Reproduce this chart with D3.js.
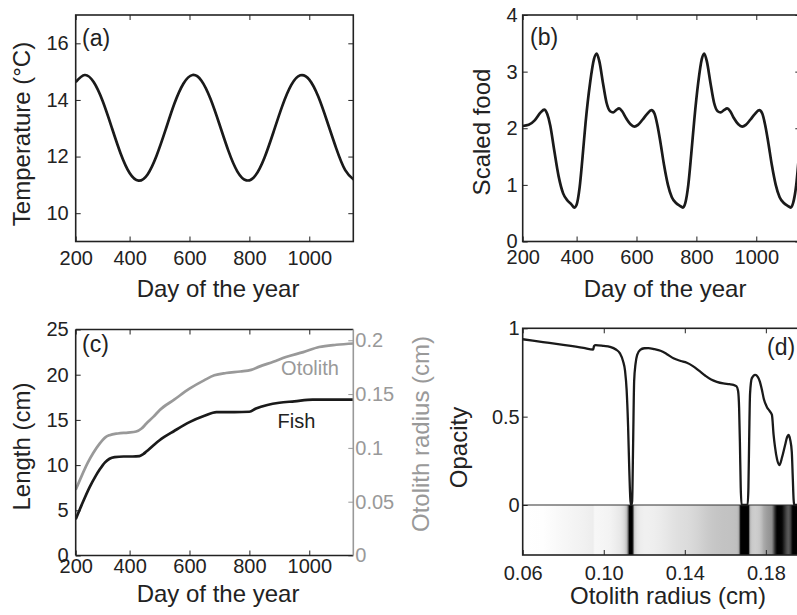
<!DOCTYPE html>
<html>
<head>
<meta charset="utf-8">
<script src="https://cdn.jsdelivr.net/npm/d3@7"></script>
<style>
  body { margin: 0; background: #fff; }
  svg { display: block; font-family: 'Liberation Sans', Arial, Helvetica, sans-serif; }
</style>
</head>
<body>
<div id="chart"></div>
<script>
// (a) temperature over the run
var tempDays   = [220, 250, 280, 310, 340, 370, 400, 430, 460, 490, 520, 550, 580, 610, 640, 670,
                  700, 730, 760, 790, 820, 850, 880, 910, 940, 970, 1000, 1030, 1060, 1090, 1120, 1150];
var tempValues = [14.63, 14.88, 14.63, 13.96, 13.04, 12.11, 11.42, 11.15, 11.37, 12.03, 12.94, 13.88,
                  14.58, 14.88, 14.68, 14.04, 13.14, 12.20, 11.47, 11.16, 11.33, 11.95, 12.85, 13.79,
                  14.53, 14.87, 14.72, 14.12, 13.23, 12.29, 11.52, 11.17];

// (b) scaled food
var foodDays   = [220, 240, 260, 280, 292, 302, 312, 325, 340, 355, 370, 382, 392, 400, 410, 420, 430,
                  445, 458, 467, 476, 488, 500, 512, 522, 532, 542, 552, 565, 580, 593, 605, 620, 635,
                  650, 660, 670, 680, 692, 705, 718, 732, 745, 755, 763, 773, 783, 793, 806, 818, 826,
                  835, 847, 859, 871, 881, 892, 903, 913, 925, 940, 953, 965, 980, 995, 1010, 1020,
                  1030, 1040, 1052, 1065, 1078, 1092, 1105, 1115, 1123, 1133, 1143, 1150];
var foodValues = [2.04, 2.06, 2.14, 2.28, 2.33, 2.25, 2.05, 1.62, 1.15, 0.85, 0.72, 0.66, 0.60, 0.65,
                  0.95, 1.50, 2.10, 2.80, 3.22, 3.32, 3.18, 2.80, 2.45, 2.30, 2.28, 2.32, 2.35, 2.30,
                  2.18, 2.07, 2.03, 2.06, 2.15, 2.25, 2.32, 2.26, 2.05, 1.75, 1.35, 1.00, 0.78, 0.68,
                  0.63, 0.60, 0.68, 1.00, 1.55, 2.15, 2.80, 3.22, 3.32, 3.18, 2.80, 2.45, 2.30, 2.28,
                  2.32, 2.35, 2.30, 2.18, 2.07, 2.03, 2.06, 2.15, 2.25, 2.32, 2.26, 2.05, 1.75, 1.35,
                  1.00, 0.78, 0.68, 0.63, 0.60, 0.68, 0.98, 1.55, 2.00];

// (c) fish length (left axis) and otolith radius (right axis)
var fishDays    = [220, 240, 267, 285, 300, 318, 333, 350, 380, 410, 433, 445, 456, 480, 500, 550, 600,
                   650, 690, 750, 800, 822, 860, 900, 950, 1011, 1150];
var fishLength  = [4.0, 5.6, 7.6, 8.7, 9.5, 10.3, 10.7, 10.88, 10.95, 10.95, 11.0, 11.2, 11.5, 12.2,
                   12.75, 13.8, 14.75, 15.45, 15.87, 15.87, 15.9, 16.25, 16.65, 16.9, 17.05, 17.24, 17.24];
var otoDays     = [220, 240, 260, 278, 300, 320, 333, 361, 395, 422, 440, 456, 480, 500, 550, 600, 650,
                   683, 722, 770, 806, 833, 880, 922, 980, 1033, 1090, 1150];
var otoRadius   = [0.061, 0.074, 0.086, 0.095, 0.104, 0.110, 0.1118, 0.1134, 0.1142, 0.1152, 0.118,
                   0.1226, 0.129, 0.135, 0.145, 0.155, 0.163, 0.1674, 0.1696, 0.171, 0.1725, 0.1755,
                   0.180, 0.1844, 0.189, 0.1937, 0.1958, 0.197];

// (d) opacity along the otolith radius
var radius  = [0.0600, 0.0700, 0.0800, 0.0900, 0.0948, 0.0952, 0.0960, 0.1000, 0.1030, 0.1060, 0.1080,
               0.1095, 0.1105, 0.1113, 0.1120, 0.1126, 0.1132, 0.1136, 0.1140, 0.1145, 0.1150, 0.1157,
               0.1165, 0.1180, 0.1200, 0.1220, 0.1250, 0.1280, 0.1310, 0.1344, 0.1380, 0.1410, 0.1440,
               0.1470, 0.1500, 0.1530, 0.1558, 0.1590, 0.1620, 0.1640, 0.1655, 0.1663, 0.1668, 0.1672,
               0.1676, 0.1680, 0.1710, 0.1714, 0.1718, 0.1722, 0.1731, 0.1747, 0.1760, 0.1770, 0.1780,
               0.1790, 0.1805, 0.1820, 0.1830, 0.1838, 0.1845, 0.1855, 0.1867, 0.1880, 0.1895, 0.1905,
               0.1912, 0.1920, 0.1928, 0.1933, 0.1937, 0.1940, 0.1970];
var opacity = [0.938, 0.922, 0.906, 0.889, 0.880, 0.900, 0.905, 0.900, 0.895, 0.880, 0.858,
               0.815, 0.760, 0.650, 0.45, 0.20, 0.02, 0.00, 0.02, 0.35, 0.70, 0.80,
               0.85, 0.878, 0.887, 0.888, 0.882, 0.873, 0.855, 0.830, 0.815, 0.805, 0.786,
               0.760, 0.733, 0.710, 0.697, 0.688, 0.684, 0.680, 0.672, 0.645, 0.55, 0.35,
               0.10, 0.00, 0.00, 0.10, 0.40, 0.63, 0.718, 0.736, 0.725, 0.700, 0.655,
               0.600, 0.555, 0.530, 0.510, 0.40, 0.33, 0.26, 0.226, 0.27, 0.34, 0.385,
               0.396, 0.37, 0.30, 0.15, 0.03, 0.00, 0.00];

// tick labels
var dayTicks     = [200, 400, 600, 800, 1000];
var tempTicks    = [10, 12, 14, 16];
var foodTicks    = [0, 1, 2, 3, 4];
var lengthTicks  = [0, 5, 10, 15, 20, 25];
var otoTicks     = [0, 0.05, 0.1, 0.15, 0.2];
var radiusTicks  = [0.06, 0.10, 0.14, 0.18];
var opacityTicks = [0, 0.5, 1];

;(function() {
  'use strict';

  var ink = '#222',
      grey = '#999',
      boxW = 277.6;

  // Plain numbers, like MATLAB prints them: 1000, 0.5, 0.
  var plain = function(d) { return String(d); };

  var svg = d3.select('#chart').append('svg')
      .attr('width', 797)
      .attr('height', 615);
  var defs = svg.append('defs');

  function translation(x, y) {
    return 'translate(' + x + ',' + y + ')';
  }

  // An axes box with a clipped layer for the data.
  function panel(name, left, top, h) {
    var g = svg.append('g').attr('transform', translation(left, top));
    defs.append('clipPath').attr('id', 'clip-' + name)
      .append('rect').attr('width', boxW).attr('height', h);
    var under = g.append('g').attr('clip-path', 'url(#clip-' + name + ')');
    var plot = g.append('g').attr('clip-path', 'url(#clip-' + name + ')');
    return {g: g, under: under, plot: plot, h: h};
  }

  function tidy(sel, colour) {
    sel.attr('font-size', 20).attr('font-family', null);
    sel.select('.domain').remove();
    sel.selectAll('.tick line').attr('stroke', colour || ink);
    sel.selectAll('.tick text').attr('fill', colour || ink);
    return sel;
  }

  // MATLAB style: ticks point into the box, mirrored on the opposite side.
  function xAxis(p, scale, ticks, fmt, pad) {
    var bottom = d3.axisBottom(scale).tickValues(ticks)
        .tickSizeInner(-5).tickSizeOuter(0).tickPadding(pad)
        .tickFormat(fmt || plain);
    tidy(p.g.append('g').attr('transform', translation(0, p.h)).call(bottom));
    tidy(p.g.append('g').call(d3.axisTop(scale).tickValues(ticks)
        .tickSizeInner(-5).tickSizeOuter(0).tickFormat('')));
  }

  function yAxis(p, scale, ticks, pad, mirror) {
    tidy(p.g.append('g').call(d3.axisLeft(scale).tickValues(ticks)
        .tickSizeInner(-5).tickSizeOuter(0).tickPadding(pad).tickFormat(plain)));
    if (mirror) {
      tidy(p.g.append('g').attr('transform', translation(boxW, 0))
          .call(d3.axisRight(scale).tickValues(ticks)
          .tickSizeInner(-5).tickSizeOuter(0).tickFormat('')));
    }
  }

  function box(p) {
    p.g.append('rect')
      .attr('width', boxW).attr('height', p.h)
      .attr('fill', 'none').attr('stroke', ink).attr('stroke-width', 1.6);
  }

  function text(str, x, y, opts) {
    opts = opts || {};
    var t = svg.append('text')
      .attr('font-size', opts.size || 24)
      .attr('fill', opts.fill || ink)
      .attr('text-anchor', opts.anchor || 'middle')
      .text(str);
    if (opts.rotate) {
      t.attr('transform', translation(x, y) + ' rotate(-90)');
    } else {
      t.attr('x', x).attr('y', y);
    }
    return t;
  }

  function curve(p, xs, ys, x, y, colour, width, shape) {
    var pts = xs.map(function(d, i) { return [d, ys[i]]; });
    p.plot.append('path')
      .datum(pts)
      .attr('fill', 'none')
      .attr('stroke', colour)
      .attr('stroke-width', width)
      .attr('stroke-linejoin', 'round')
      .attr('d', d3.line()
        .x(function(d) { return x(d[0]); })
        .y(function(d) { return y(d[1]); })
        .curve(shape || d3.curveMonotoneX));
  }

  // Shared day scale; the axis copy is clamped so the "200" tick sits on the edge.
  var xDay = d3.scaleLinear().domain([220, 1147]).range([0, boxW]);
  var xDayAxis = xDay.copy().clamp(true);

  /* (a) temperature */
  var pa = panel('a', 75.7, 15, 226.5);
  var yTemp = d3.scaleLinear().domain([9, 17]).range([pa.h, 0]);
  curve(pa, tempDays, tempValues, xDay, yTemp, '#1a1a1a', 2.7, d3.curveNatural);
  xAxis(pa, xDayAxis, dayTicks, null, 9);
  yAxis(pa, yTemp, tempTicks, 7, true);
  box(pa);
  text('(a)', 82, 46, {size: 23, anchor: 'start'});
  text('Day of the year', 218, 297);
  text('Temperature (\u00B0C)', 30, 134, {rotate: true});

  /* (b) scaled food */
  var pb = panel('b', 522.7, 15, 226.5);
  var yFood = d3.scaleLinear().domain([0, 4]).range([pb.h, 0]);
  curve(pb, foodDays, foodValues, xDay, yFood, '#1a1a1a', 2.7);
  xAxis(pb, xDayAxis, dayTicks, null, 8.5);
  yAxis(pb, yFood, foodTicks, 5, true);
  box(pb);
  text('(b)', 530, 45, {size: 23, anchor: 'start'});
  text('Day of the year', 665, 297);
  text('Scaled food', 490, 132, {rotate: true});

  /* (c) fish and otolith growth */
  var pc = panel('c', 75.7, 329.5, 226);
  var yLen = d3.scaleLinear().domain([0, 25]).range([pc.h, 0]);
  var yOto = d3.scaleLinear().domain([0, 0.21]).range([pc.h, 0]);
  curve(pc, otoDays, otoRadius, xDay, yOto, grey, 2.7);
  curve(pc, fishDays, fishLength, xDay, yLen, '#1a1a1a', 2.7);
  xAxis(pc, xDayAxis, dayTicks, null, 3);
  yAxis(pc, yLen, lengthTicks, 7, false);
  tidy(pc.g.append('g').attr('transform', translation(boxW, 0))
      .call(d3.axisRight(yOto).tickValues(otoTicks).tickFormat(plain)
      .tickSizeInner(-5).tickSizeOuter(0).tickPadding(2)), grey);
  var cEdges = [
    {x1: 0, y1: 0, x2: boxW, y2: 0, c: ink},
    {x1: 0, y1: 0, x2: 0, y2: pc.h, c: ink},
    {x1: 0, y1: pc.h, x2: boxW, y2: pc.h, c: ink},
    {x1: boxW, y1: 0, x2: boxW, y2: pc.h, c: grey}
  ];
  pc.g.selectAll('line.edge').data(cEdges).enter().append('line')
    .attr('class', 'edge')
    .attr('x1', function(d) { return d.x1; }).attr('y1', function(d) { return d.y1; })
    .attr('x2', function(d) { return d.x2; }).attr('y2', function(d) { return d.y2; })
    .attr('stroke', function(d) { return d.c; })
    .attr('stroke-width', 1.6);
  text('(c)', 82, 352, {size: 23, anchor: 'start'});
  text('Otolith', 310, 375, {size: 20, fill: grey});
  text('Fish', 296.5, 428, {size: 20});
  text('Day of the year', 218, 602);
  text('Length (cm)', 29.5, 446.5, {rotate: true});
  text('Otolith radius (cm)', 428.5, 434, {rotate: true, fill: grey});

  /* (d) opacity profile with the otolith image strip */
  var pd = panel('d', 522.7, 328.3, 226.7);
  var xRad = d3.scaleLinear().domain([0.06, 0.197]).range([0, boxW]);
  var yOpa = d3.scaleLinear().domain([-0.283, 1]).range([pd.h, 0]);
  var shade = d3.scaleLinear()
      .domain([0.26, 0.4, 0.54, 0.69, 0.8, 0.88, 0.925])
      .range(['#000', '#5c5c5c', '#999', '#c4c4c4', '#dbdbdb', '#ededed', '#fff'])
      .clamp(true);

  var grad = defs.append('linearGradient')
      .attr('id', 'strip')
      .attr('gradientUnits', 'userSpaceOnUse')
      .attr('x1', xRad(radius[0])).attr('x2', xRad(radius[radius.length - 1]))
      .attr('y1', 0).attr('y2', 0);
  var span = xRad(radius[radius.length - 1]) - xRad(radius[0]);
  grad.selectAll('stop').data(radius).enter().append('stop')
    .attr('offset', function(d) { return (xRad(d) - xRad(radius[0])) / span; })
    .attr('stop-color', function(d, i) { return shade(opacity[i]); });

  pd.under.append('rect')
    .attr('x', 0).attr('y', yOpa(0))
    .attr('width', boxW).attr('height', pd.h - yOpa(0))
    .attr('fill', 'url(#strip)');
  pd.under.append('line')
    .attr('x1', 0).attr('x2', boxW)
    .attr('y1', yOpa(0)).attr('y2', yOpa(0))
    .attr('stroke', '#333').attr('stroke-width', 1.2);

  curve(pd, radius, opacity, xRad, yOpa, '#1a1a1a', 2.3);
  xAxis(pd, xRad, radiusTicks, d3.format('.2f'), 11);
  yAxis(pd, yOpa, opacityTicks, 3, false);
  box(pd);
  text('(d)', 767, 355, {size: 23, anchor: 'start'});
  text('Otolith radius (cm)', 668, 604);
  text('Opacity', 466.5, 447.5, {rotate: true});
}());
</script>
</body>
</html>
